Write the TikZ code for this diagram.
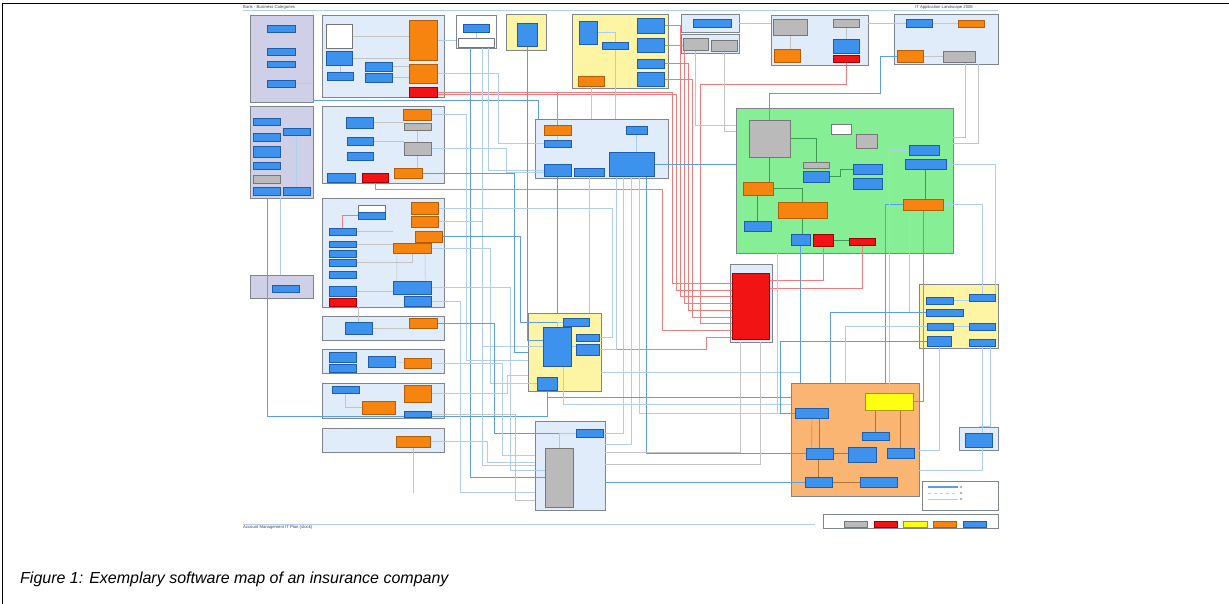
\documentclass[tikz,border=0pt]{standalone}
\usepackage{fontspec}
\setmainfont{Liberation Sans}
\usetikzlibrary{fit}
\definecolor{appblue}{HTML}{3D92EE}
\definecolor{appblueb}{HTML}{1F5DAA}
\definecolor{apporange}{HTML}{F7840E}
\definecolor{apporangeb}{HTML}{B25E08}
\definecolor{appred}{HTML}{F21414}
\definecolor{appredb}{HTML}{A00000}
\definecolor{appgray}{HTML}{BABABA}
\definecolor{appgrayb}{HTML}{777777}
\definecolor{appyellow}{HTML}{FFFF12}
\definecolor{appyellowb}{HTML}{A89A00}
\definecolor{kblue}{HTML}{E0ECF9}
\definecolor{klav}{HTML}{CFD0E7}
\definecolor{kyel}{HTML}{FDF5A4}
\definecolor{kgreen}{HTML}{86EF96}
\definecolor{korange}{HTML}{FBB572}
\definecolor{kborder}{HTML}{7F858C}
\definecolor{lineblue}{HTML}{5C9DE8}
\definecolor{linelight}{HTML}{AECDF0}
\definecolor{linered}{HTML}{F27B7B}
\definecolor{linegray}{HTML}{C4C4C4}
\definecolor{lineorange}{HTML}{B8742E}
\definecolor{linegreen}{HTML}{3E9A52}
\pgfdeclarelayer{kback}
\pgfdeclarelayer{lines}
\pgfsetlayers{kback,lines,main}
\begin{document}
\begin{tikzpicture}[x=1pt,y=-1pt]
	\tikzstyle{ab} = [draw=appblueb, fill=appblue, line width=0.5pt, inner sep=0pt]
	\tikzstyle{ao} = [draw=apporangeb, fill=apporange, line width=0.5pt, inner sep=0pt]
	\tikzstyle{ar} = [draw=appredb, fill=appred, line width=0.5pt, inner sep=0pt]
	\tikzstyle{ag} = [draw=appgrayb, fill=appgray, line width=0.5pt, inner sep=0pt]
	\tikzstyle{ay} = [draw=appyellowb, fill=appyellow, line width=0.5pt, inner sep=0pt]
	\tikzstyle{aw} = [draw=appgrayb, fill=white, line width=0.5pt, inner sep=0pt]
	\tikzstyle{kb} = [draw=kborder, fill=kblue, line width=0.8pt, inner sep=0pt]
	\tikzstyle{kl} = [draw=kborder, fill=klav, line width=0.8pt, inner sep=0pt]
	\tikzstyle{ky} = [draw=kborder, fill=kyel, line width=0.8pt, inner sep=0pt]
	\tikzstyle{kg} = [draw=kborder, fill=kgreen, line width=0.8pt, inner sep=0pt]
	\tikzstyle{ko} = [draw=kborder, fill=korange, line width=0.8pt, inner sep=0pt]
	\tikzstyle{kw} = [draw=kborder, fill=white, line width=0.8pt, inner sep=0pt]
	\tikzstyle{bl} = [draw=lineblue, line width=0.7pt]
	\tikzstyle{lb} = [draw=linelight, line width=0.5pt]
	\tikzstyle{rl} = [draw=linered, line width=0.6pt]
	\tikzstyle{gl} = [draw=linegray, line width=0.45pt]
	\tikzstyle{ol} = [draw=lineorange, line width=0.4pt]
	\tikzstyle{sl} = [draw=linegreen, line width=0.4pt]
	\tikzstyle{tiny} = [inner sep=0pt, font=\fontsize{4.2}{5}\selectfont, text=black!75]
	\useasboundingbox (0,0) rectangle (1229,604);
	% page frame
	\draw[line width=1.5pt] (2.5,604) -- (2.5,3.5) -- (1229,3.5);
	% header and footer
	\node[tiny, anchor=west] (hd) at (243,7) {Bank - Business Categories};
	\node[tiny, anchor=east] (hr) at (973,7) {IT Application Landscape 2008};
	\node[tiny, anchor=west] (ft) at (243,527.5) {Account Management IT Plan (stock)};
	\draw[lb] (hd.west |- 0,10.5) -- (998,10.5);
	\draw[lb] (ft.west |- 0,524) -- (815,524);
	% containers
	\begin{pgfonlayer}{kback}
		\node[kl, fit={(250,15) (313,102)}] (l1) {};
		\node[kl, fit={(250,106) (313,198)}] (l2) {};
		\node[kl, fit={(250,275) (313,298)}] (l3) {};
		\node[kb, fit={(322,15) (444,97)}] (d) {};
		\node[kb, fit={(322,106) (444,183)}] (e) {};
		\node[kb, fit={(322,198) (444,307)}] (f) {};
		\node[kb, fit={(322,316) (444,340)}] (g) {};
		\node[kb, fit={(322,349) (444,373)}] (h) {};
		\node[kb, fit={(322,383) (444,418)}] (i) {};
		\node[kb, fit={(322,428) (444,452)}] (j) {};
		\node[kw, fit={(456,15) (496,48)}] (k) {};
		\node[ky, fit={(506,14) (546,50)}] (l) {};
		\node[ky, fit={(572,14) (668,88)}] (m) {};
		\node[kb, fit={(681,14) (739,32)}] (n) {};
		\node[kb, fit={(681,34) (739,53)}] (o) {};
		\node[kb, fit={(771,15) (868,65)}] (p) {};
		\node[kb, fit={(894,14) (998,64)}] (q) {};
		\node[kb, fit={(535,119) (668,178)}] (rr) {};
		\node[kg, fit={(736,108) (953,253)}] (s) {};
		\node[kb, fit={(730,264) (772,342)}] (t) {};
		\node[ky, fit={(528,313) (601,391)}] (u) {};
		\node[kb, fit={(535,421) (605,510)}] (v) {};
		\node[ko, fit={(791,383) (919,496)}] (w) {};
		\node[kb, fit={(959,427) (998,450)}] (xx) {};
		\node[ky, fit={(919,284) (998,348)}] (aa) {};
		\node[kw, fit={(922,481) (998,510)}] (leg1) {};
		\node[kw, fit={(823,514) (998,528)}] (leg2) {};
	\end{pgfonlayer}
	% applications
	\node[ab, fit={(267,25) (295,32)}] (l1a) {};
	\node[ab, fit={(267,48) (295,55)}] (l1b) {};
	\node[ab, fit={(267,61) (295,67)}] (l1c) {};
	\node[ab, fit={(267,80) (295,87)}] (l1d) {};
	\node[ab, fit={(253,118) (280,125)}] (l2a) {};
	\node[ab, fit={(253,133) (280,141)}] (l2b) {};
	\node[ab, fit={(253,146) (280,157)}] (l2c) {};
	\node[ab, fit={(253,162) (280,169)}] (l2d) {};
	\node[ag, fit={(253,175) (280,183)}] (l2e) {};
	\node[ab, fit={(253,187) (280,195)}] (l2f) {};
	\node[ab, fit={(283,128) (310,135)}] (l2g) {};
	\node[ab, fit={(283,187) (310,195)}] (l2h) {};
	\node[ab, fit={(272,285) (299,292)}] (l3a) {};
	\node[aw, fit={(326,24) (352,48)}] (d1) {};
	\node[ab, fit={(326,51) (352,65)}] (d2) {};
	\node[ab, fit={(327,72) (353,80)}] (d3) {};
	\node[ab, fit={(365,62) (392,71)}] (d4) {};
	\node[ab, fit={(365,73) (392,82)}] (d5) {};
	\node[ao, fit={(409,20) (437,60)}] (d6) {};
	\node[ao, fit={(409,64) (437,83)}] (d7) {};
	\node[ar, fit={(409,87) (437,97)}] (d8) {};
	\node[ab, fit={(346,117) (373,128)}] (e1) {};
	\node[ab, fit={(347,137) (373,145)}] (e2) {};
	\node[ab, fit={(347,152) (373,160)}] (e3) {};
	\node[ab, fit={(327,173) (355,182)}] (e4) {};
	\node[ar, fit={(362,173) (388,182)}] (e5) {};
	\node[ao, fit={(394,168) (422,178)}] (e6) {};
	\node[ao, fit={(403,109) (431,120)}] (e7) {};
	\node[ag, fit={(404,123) (431,130)}] (e8) {};
	\node[ag, fit={(404,142) (431,155)}] (e9) {};
	\node[aw, fit={(358,205) (385,212)}] (f1) {};
	\node[ab, fit={(358,212) (385,219)}] (f2) {};
	\node[ab, fit={(329,228) (356,235)}] (f3) {};
	\node[ab, fit={(329,241) (356,247)}] (f4) {};
	\node[ab, fit={(329,250) (356,257)}] (f5) {};
	\node[ab, fit={(329,259) (356,266)}] (f6) {};
	\node[ab, fit={(329,271) (356,278)}] (f7) {};
	\node[ab, fit={(329,286) (356,296)}] (f8) {};
	\node[ar, fit={(329,298) (356,306)}] (f9) {};
	\node[ao, fit={(411,202) (438,214)}] (f10) {};
	\node[ao, fit={(411,216) (438,227)}] (f11) {};
	\node[ao, fit={(415,231) (442,242)}] (f12) {};
	\node[ao, fit={(393,243) (431,253)}] (f13) {};
	\node[ab, fit={(393,281) (431,294)}] (f14) {};
	\node[ab, fit={(404,296) (431,306)}] (f15) {};
	\node[ab, fit={(345,322) (372,334)}] (g1) {};
	\node[ao, fit={(409,318) (437,328)}] (g2) {};
	\node[ab, fit={(329,352) (356,362)}] (h1) {};
	\node[ab, fit={(329,364) (356,372)}] (h2) {};
	\node[ab, fit={(368,356) (395,367)}] (h3) {};
	\node[ao, fit={(404,358) (431,368)}] (h4) {};
	\node[ab, fit={(332,386) (359,393)}] (i1) {};
	\node[ao, fit={(362,401) (395,414)}] (i2) {};
	\node[ao, fit={(404,385) (431,402)}] (i3) {};
	\node[ab, fit={(404,411) (431,417)}] (i4) {};
	\node[ao, fit={(396,436) (430,447)}] (j1) {};
	\node[ab, fit={(463,24) (489,32)}] (k1) {};
	\node[aw, fit={(458,38) (494,47)}] (k2) {};
	\node[ab, fit={(517,23) (537,46)}] (la) {};
	\node[ab, fit={(579,21) (597,44)}] (m1) {};
	\node[ab, fit={(602,42) (628,49)}] (m2) {};
	\node[ab, fit={(637,18) (664,33)}] (m3) {};
	\node[ab, fit={(637,38) (664,52)}] (m4) {};
	\node[ab, fit={(637,59) (664,68)}] (m5) {};
	\node[ab, fit={(637,72) (664,86)}] (m6) {};
	\node[ao, fit={(578,76) (604,86)}] (m7) {};
	\node[ab, fit={(693,19) (731,27)}] (n1) {};
	\node[ag, fit={(683,38) (708,50)}] (o1) {};
	\node[ag, fit={(711,40) (737,51)}] (o2) {};
	\node[ag, fit={(773,19) (807,35)}] (p1) {};
	\node[ao, fit={(774,49) (800,62)}] (p2) {};
	\node[ab, fit={(833,39) (859,53)}] (p3) {};
	\node[ar, fit={(833,55) (859,62)}] (p4) {};
	\node[ag, fit={(833,19) (859,27)}] (p5) {};
	\node[ab, fit={(906,19) (932,27)}] (q1) {};
	\node[ao, fit={(958,20) (984,27)}] (q2) {};
	\node[ao, fit={(897,50) (923,62)}] (q3) {};
	\node[ag, fit={(943,51) (975,62)}] (q4) {};
	\node[ao, fit={(544,125) (571,135)}] (r1) {};
	\node[ab, fit={(544,140) (571,147)}] (r2) {};
	\node[ab, fit={(544,164) (571,176)}] (r3) {};
	\node[ab, fit={(574,168) (604,176)}] (r4) {};
	\node[ab, fit={(609,152) (654,176)}] (r5) {};
	\node[ab, fit={(626,126) (647,134)}] (r6) {};
	\node[ag, fit={(749,120) (790,157)}] (s1) {};
	\node[aw, fit={(831,124) (851,134)}] (s2) {};
	\node[ag, fit={(856,134) (877,148)}] (s3) {};
	\node[ag, fit={(803,162) (829,168)}] (s4) {};
	\node[ab, fit={(803,171) (829,182)}] (s5) {};
	\node[ab, fit={(909,145) (939,155)}] (s6) {};
	\node[ab, fit={(905,159) (946,169)}] (s7) {};
	\node[ab, fit={(853,164) (882,174)}] (s8) {};
	\node[ab, fit={(853,178) (882,189)}] (s9) {};
	\node[ao, fit={(743,182) (773,195)}] (s10) {};
	\node[ao, fit={(778,202) (827,218)}] (s11) {};
	\node[ab, fit={(744,221) (771,231)}] (s12) {};
	\node[ab, fit={(791,234) (810,245)}] (s13) {};
	\node[ar, fit={(813,234) (833,246)}] (s14) {};
	\node[ar, fit={(849,238) (875,245)}] (s15) {};
	\node[ao, fit={(903,199) (943,210)}] (s16) {};
	\node[ar, fit={(732,273) (769,339)}] (t1) {};
	\node[ab, fit={(543,327) (571,366)}] (u1) {};
	\node[ab, fit={(563,318) (589,326)}] (u2) {};
	\node[ab, fit={(576,334) (599,341)}] (u3) {};
	\node[ab, fit={(576,344) (599,355)}] (u4) {};
	\node[ab, fit={(537,377) (557,390)}] (u5) {};
	\node[ab, fit={(576,429) (603,437)}] (v1) {};
	\node[ag, fit={(545,448) (573,507)}] (v2) {};
	\node[ay, fit={(865,393) (913,410)}] (w1) {};
	\node[ab, fit={(795,408) (828,418)}] (w2) {};
	\node[ab, fit={(862,432) (889,440)}] (w3) {};
	\node[ab, fit={(806,448) (833,459)}] (w4) {};
	\node[ab, fit={(848,447) (876,462)}] (w5) {};
	\node[ab, fit={(887,448) (914,458)}] (w6) {};
	\node[ab, fit={(805,477) (832,487)}] (w7) {};
	\node[ab, fit={(860,477) (897,487)}] (w8) {};
	\node[ab, fit={(965,433) (992,447)}] (x1) {};
	\node[ab, fit={(926,297) (953,304)}] (a1) {};
	\node[ab, fit={(969,294) (995,301)}] (a2) {};
	\node[ab, fit={(926,309) (963,316)}] (a3) {};
	\node[ab, fit={(927,323) (953,330)}] (a4) {};
	\node[ab, fit={(969,323) (995,330)}] (a5) {};
	\node[ab, fit={(927,336) (951,346)}] (a6) {};
	\node[ab, fit={(969,339) (995,346)}] (a7) {};
	% legend
	\node[ag, fit={(844,521) (867,527)}] (z1) {};
	\node[ar, fit={(874,521) (897,527)}] (z2) {};
	\node[ay, fit={(903,521) (927,527)}] (z3) {};
	\node[ao, fit={(933,521) (956,527)}] (z4) {};
	\node[ab, fit={(963,521) (986,527)}] (z5) {};
	\coordinate (g1a) at (928,487);
	\coordinate (g1b) at (958,487);
	\coordinate (g2a) at (928,493);
	\coordinate (g2b) at (958,493);
	\coordinate (g3a) at (928,499);
	\coordinate (g3b) at (958,499);
	\draw[bl, line width=1.1pt] (g1a) -- (g1b);
	\draw[lb, dashed] (g2a) -- (g2b);
	\draw[lb] (g3a) -- (g3b);
	\foreach \c in {g1b,g2b,g3b} \fill[black!60] (\c) ++(3,0) circle (0.8);
	% caption
	\node[anchor=base west, inner sep=0pt, font=\fontsize{16}{19}\selectfont\itshape] (cap) at (20,583) {Figure 1: Exemplary software map of an insurance company};
	% connectors
	\begin{pgfonlayer}{lines}
		% red lines into the central red system
		\draw[rl] (d8.east) -| (672,283) -- (t1.west |- 0,283);
		\draw[rl] (d8.east) ++(0,2.5) -| (676,290) -- (t1.west |- 0,290);
		\draw[rl] (d8.east -| r1.north) -- (r1.north);
		\draw[rl] (m3.east) -| (680,296) -- (t1.west |- 0,296);
		\draw[rl] (m4.east) -| (684,303) -- (t1.west |- 0,303);
		\draw[rl] (m5.east) -| (688,310) -- (t1.west |- 0,310);
		\draw[rl] (m6.east) -| (692,317) -- (t1.west |- 0,317);
		\draw[rl] (p4.south) |- (700,84) |- (t1.west |- 0,323);
		\draw[rl] (e5.south) |- (662,189) |- (t1.west |- 0,330);
		\draw[rl] (u4.east) -| (706,337) -- (t1.west |- 0,337);
		\draw[rl] (s14.south) |- (t1.east |- 0,280);
		\draw[rl] (s15.south) |- (t1.east |- 0,288);
		% left column to the middle
		\draw[bl] (l1.east |- 0,100) -- (538,100) -- (rr.north -| 538,0);
		\draw[bl] (l2.south -| 267,0) |- (u5.south |- 0,416) -- (u5.south);
		\draw[lb] (l3.north -| 280,0) -- (l2.south -| 280,0);
		\draw[lb] (d7.east) -- (d7.east -| 498,0) |- (r2.west);
		\draw[lb] (d6.east) -- (k.west |- d6.east);
		\draw[bl] (k2.south) ++(-6,0) |- (v2.west);
		\draw[lb] (k2.south) ++(6,0) |- (u1.west);
		\draw[lb] (k2.south) ++(12,0) |- (r3.west);
		\draw[bl] (la.south) |- (u1.west |- 0,340);
		\draw[lb] (e7.east) -- (e7.east -| 466,0) |- (u.west |- 0,360);
		\draw[lb] (e9.east) -- (e9.east -| 506,0) |- (r3.west |- 0,172);
		\draw[bl] (e6.east) -- (e6.east -| 514,0) |- (u.west |- 0,352);
		\draw[lb] (e4.south) -- (e.south -| e4.south);
		\draw[lb] (f10.east) -- (f10.east -| 612,0) |- (u3.east);
		\draw[lb] (f11.east) -- (f11.east -| 482,0) |- (v.west);
		\draw[bl] (f12.east) -- (f12.east -| 520,0) |- (u2.west);
		\draw[lb] (f13.east) -- (f13.east -| 490,0) |- (u5.west);
		\draw[lb] (f14.east) -- (f14.east -| 510,0) |- (v2.west |- 0,470);
		\draw[lb] (f15.east) -- (f15.east -| 460,0) |- (v.west |- 0,492);
		\draw[bl] (g2.east) -- (g2.east -| 494,0) |- (v1.west);
		\draw[lb] (h4.east) -- (h4.east -| 502,0) |- (v.west |- 0,455);
		\draw[lb] (i3.east) -- (i3.east -| 507,0) |- (u.west |- 0,375);
		\draw[gl] (i4.east) -- (i4.east -| 515,0) |- (v.west |- 0,500);
		\draw[lb] (j1.east) -- (j1.east -| 487,0) |- (v.west |- 0,462);
		\draw[gl] (j1.south) -- (j1.south |- 0,493);
		\draw[gl] (g1.north) -- (g1.north |- f.south);
		% middle down to the lower boxes
		\draw[lb] (m7.south) -- (m7.south |- rr.north);
		\draw[lb] (m2.south) -- (m2.south |- rr.north);
		\draw[bl] (r3.south) -- (r3.south |- u.north);
		\draw[lb] (r4.south) -- (r4.south |- u.north);
		\draw[lb] (r5.south) ++(-15,0) |- (u4.east);
		\draw[lb] (r5.south) ++(-8,0) |- (v1.east);
		\draw[lb] (r5.south) ++(0,0) |- (v.east |- 0,444);
		\draw[lb] (r5.south) ++(8,0) |- (w2.west);
		\draw[bl] (r5.south) ++(15,0) |- (w4.west);
		\draw[bl] (r5.east) -- (s.west |- r5.east);
		\draw[bl] (v.east |- w7.west) -- (w7.west);
		\draw[bl] (u5.south) |- (w.west |- 0,397);
		\draw[lb] (u1.south) ++(6,0) |- (w.west |- 0,404);
		\draw[lb] (u.east |- 0,372) -| (w.north -| 800,0);
		\draw[gl] (v.east |- 0,452) -| (t.south -| 740,0);
		\draw[gl] (v.east |- 0,464) -| (t.south -| 760,0);
		% top right
		\draw[bl] (q3.west) -| (880,93) -| (s1.north);
		\draw[gl] (q1.west) -- (p.east |- q1.west);
		\draw[gl] (q4.south) ++(6,0) |- (s.east |- 0,137);
		\draw[gl] (q.south -| 978,0) |- (s.east |- 0,143);
		\draw[gl] (o1.south) |- (s.west |- 0,125);
		\draw[gl] (o2.south) |- (s.west |- 0,131);
		\draw[gl] (n.east) -- (p.west |- n.east);
		\draw[gl] (p1.south) -- (p1.south |- p2.north);
		\draw[gl] (p5.south) -- (p3.north);
		\draw[lb] (q1.east) -- (q2.west |- q1.east);
		\draw[gl] (q3.east) -- (q4.west |- q3.east);
		% green area to the right and down
		\draw[bl] (s16.south) |- (w1.east);
		\draw[lb] (s16.south) ++(-14,0) |- (a3.west);
		\draw[lb] (s16.east) -| (a2.north);
		\draw[lb] (s7.east) -| (a2.north east);
		\draw[bl] (s16.west) -| (w.north -| 885,0);
		\draw[lb] (s6.west) -| (w1.north);
		\draw[bl] (s13.south) -- (s13.south |- w.north);
		\draw[lb] (s.south -| 777,0) |- (w2.west);
		\draw[bl] (a3.west) -| (w.north -| 830,0);
		\draw[bl] (a6.west) -| (780,413) -- (w2.west);
		\draw[lb] (a4.west) -| (w.north -| 845,0);
		\draw[lb] (a6.south) |- (w.east |- 0,450);
		\draw[lb] (a7.south) |- (w.east |- 0,470);
		\draw[lb] (a7.south) ++(8,0) |- (xx.north);
		% inside the boxes
		\draw[gl] (d1.east) -- (d6.west |- d1.east);
		\draw[gl] (d2.east) -- (d6.west |- d2.east);
		\draw[gl] (d4.east) -- (d7.west |- d4.east);
		\draw[gl] (d5.east) -- (d7.west |- d5.east);
		\draw[gl] (d3.north) -- (d3.north |- d2.south);
		\draw[gl] (e1.east) -- (e8.west |- e1.east);
		\draw[gl] (e2.east) -- (e9.west |- e2.east);
		\draw[gl] (e8.south) -- (e9.north);
		\draw[gl] (e9.south) -- (e6.north -| e9.south);
		\draw[rl] (f2.west) -| (f3.north);
		\draw[gl] (f3.east) -- (f13.west |- f3.east);
		\draw[gl] (f4.east) -- (f13.west |- f4.east);
		\draw[gl] (f6.east) -| (f13.south);
		\draw[gl] (f8.east) -- (f14.west |- f8.east);
		\draw[gl] (f14.north west) ++(4,0) -- (f13.south -| 397,0);
		\draw[gl] (f14.north east) ++(-6,0) -- (f13.south -| 425,0);
		\draw[gl] (g1.east) -| (g2.south);
		\draw[gl] (h3.east) -- (h4.west);
		\draw[gl] (i1.south) |- (i2.west);
		\draw[lb] (l1d.east) -- (l1.east |- l1d.east);
		\draw[lb] (l2g.south) -- (l2h.north);
		\draw[lb] (m1.east) -| (m2.north);
		\draw[lb] (k1.south) -- (k1.south |- k2.north);
		\draw[lb] (r6.south) -- (r5.north -| r6.south);
		\draw[lb] (r1.south) -- (r2.north);
		\draw[sl] (s1.south) -- (s10.north -| s1.south);
		\draw[sl] (s1.east) -| (s4.north);
		\draw[sl] (s3.west) -- (s2.south -| s3.west);
		\draw[sl] (s5.east) -| (840,169) -- (s8.west);
		\draw[sl] (s10.east) -| (s11.north);
		\draw[sl] (s11.south) -- (s13.north -| s11.south);
		\draw[sl] (s14.east) -- (s15.west |- s14.east);
		\draw[sl] (s12.north) -- (s10.south -| s12.north);
		\draw[sl] (s7.south) -- (s16.north -| s7.south);
		\draw[lb] (u1.east) -- (u3.west |- u1.east);
		\draw[lb] (u2.west) -| (u1.north);
		\draw[gl] (v1.west) -| (v2.north);
		\draw[ol] (w3.north) -- (w3.north |- w1.south);
		\draw[ol] (w6.north) -- (w6.north |- w1.south);
		\draw[ol] (w4.north) -- (w4.north |- w2.south);
		\draw[ol] (w4.north west) ++(6,0) -- (w2.south -| 812,0);
		\draw[ol] (w4.east) -- (w5.west |- w4.east);
		\draw[ol] (w7.north) -- (w7.north |- w4.south);
		\draw[ol] (w7.east) -- (w8.west);
		\draw[lb] (a4.east) -- (a5.west);
		\draw[lb] (a1.east) -- (a2.west |- a1.east);
	\end{pgfonlayer}
\end{tikzpicture}
\end{document}
